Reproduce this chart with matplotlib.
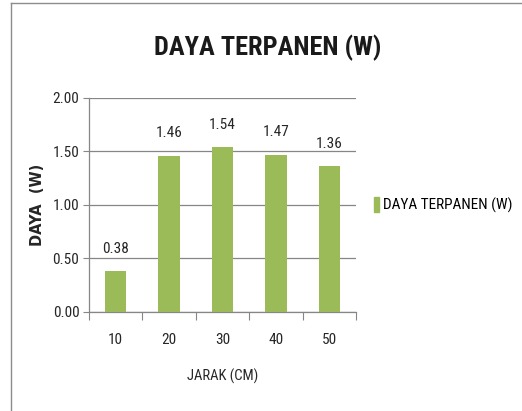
import matplotlib
matplotlib.use("Agg")
from matplotlib import pyplot as plt
from matplotlib import font_manager
from matplotlib.lines import Line2D
from matplotlib.patches import Patch

jarak = ["10", "20", "30", "40", "50"]
daya = [0.38, 1.46, 1.54, 1.47, 1.36]
y_ticks = [0.0, 0.5, 1.0, 1.5, 2.0]

GREEN = "#9bbb59"
GRID = "#868686"

# narrow faces first, if any are around
names = {f.name for f in font_manager.fontManager.ttflist}
narrow = [n for n in ["Roboto Condensed", "Open Sans Condensed",
                      "Liberation Sans Narrow", "Liberation Sans"] if n in names]
plt.rcParams["font.family"] = narrow[:1] + ["DejaVu Sans"]

fig = plt.figure(figsize=(5.22, 4.11), dpi=100)
ax = fig.add_axes([0.1705, 0.2409, 0.5115, 0.5207])

xs = list(range(len(jarak)))
ax.bar(xs, daya, width=0.4, color=GREEN, zorder=3)

for x, v in zip(xs, daya):
    ax.annotate(f"{v:.2f}", (x, v), xytext=(0, 11), textcoords="offset points",
                ha="center", va="bottom", fontsize=11, color="#262626")

ax.set_xlim(-0.5, len(jarak) - 0.5)
ax.set_ylim(0, 2.0)
ax.set_yticks(y_ticks)
ax.set_yticklabels([f"{t:.2f}" for t in y_ticks], fontsize=11, color="#262626")
ax.set_xticks(xs)
ax.set_xticklabels(jarak, fontsize=11, color="#262626")
ax.set_xticks([x - 0.5 for x in xs] + [len(jarak) - 0.5], minor=True)
ax.tick_params(axis="x", which="major", length=0, pad=15)
ax.tick_params(axis="x", which="minor", length=6, color=GRID, width=0.8)
ax.tick_params(axis="y", length=4, color=GRID, width=0.8, pad=3)

ax.yaxis.grid(True, color=GRID, linewidth=0.9, zorder=0)
for side in ["top", "right"]:
    ax.spines[side].set_visible(False)
for side in ["left", "bottom"]:
    ax.spines[side].set_color(GRID)
    ax.spines[side].set_linewidth(0.9)

ax.set_xlabel("JARAK (CM)", fontsize=10.5, color="#262626", labelpad=16)
ax.set_ylabel("DAYA  (W)", fontsize=10.5, fontweight="bold", color="#262626",
              family=["DejaVu Sans"])
ax.yaxis.set_label_coords(-0.165, 0.5)

fig.text(0.513, 0.883, "DAYA TERPANEN (W)", ha="center", va="center",
         fontsize=19, fontweight="bold", color="#1a1a1a")

ax.legend(handles=[Patch(color=GREEN, label="DAYA TERPANEN (W)")],
          loc="center left", bbox_to_anchor=(1.045, 0.5), frameon=False,
          fontsize=11, handlelength=0.35, handleheight=1.1, handletextpad=0.25,
          borderaxespad=0)

fig.add_artist(Line2D([11 / 522, 1.0], [1 - 3 / 411, 1 - 3 / 411],
                      transform=fig.transFigure, color="#8c8c8c", linewidth=1))
fig.add_artist(Line2D([11 / 522, 11 / 522], [0, 1 - 3 / 411],
                      transform=fig.transFigure, color="#8c8c8c", linewidth=1))

fig.savefig("out.png", dpi=100)
